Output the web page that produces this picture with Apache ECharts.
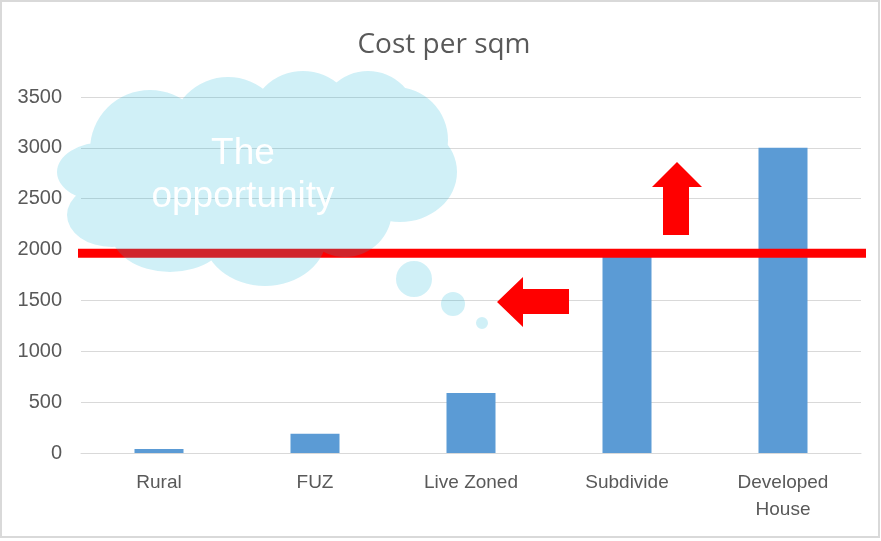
<!DOCTYPE html>
<html>
<head>
<meta charset="utf-8">
<script src="https://cdn.jsdelivr.net/npm/echarts@6/dist/echarts.min.js"></script>
<style>html,body{margin:0;padding:0;background:#fff;}#chart{width:881px;height:541px;}</style>
</head>
<body>
<div id="chart"></div>
<script>
// ---- data ----
const chartTitle = 'Cost per sqm';
const categories = ['Rural', 'FUZ', 'Live Zoned', 'Subdivide', 'Developed\nHouse'];
const costValues = [40, 190, 590, 1950, 3000];
const yMin = 0;
const yMax = 3500;
const yInterval = 500;
const thresholdValue = 1965;
const cloudText = 'The\nopportunity';

// ---- decoration helpers ----
function ellipsePath(cx, cy, rx, ry) {
  return 'M' + (cx - rx) + ' ' + cy +
    ' a' + rx + ' ' + ry + ' 0 1 0 ' + (2 * rx) + ' 0' +
    ' a' + rx + ' ' + ry + ' 0 1 0 ' + (-2 * rx) + ' 0 Z ';
}
const cloudLobes = [
  [255, 175, 170, 70],
  [150, 150, 60, 60],
  [228, 135, 58, 58],
  [303, 125, 54, 54],
  [368, 120, 49, 49],
  [395, 140, 53, 53],
  [400, 172, 57, 50],
  [345, 210, 47, 47],
  [265, 235, 62, 51],
  [170, 230, 60, 42],
  [112, 215, 45, 32],
  [105, 172, 48, 30]
];
let cloudPath = '';
cloudLobes.forEach(l => { cloudPath += ellipsePath(l[0], l[1], l[2], l[3]); });
const bubblePath = ellipsePath(414, 279, 18, 18) + ellipsePath(453, 304, 12, 12) + ellipsePath(482, 323, 6, 6);
const cloudFill = 'rgba(20,180,215,0.2)';

echarts.graphic.registerShape('cloudShape', echarts.graphic.extendPath(cloudPath, {}));
echarts.graphic.registerShape('bubbleShape', echarts.graphic.extendPath(bubblePath, {}));

const chart = echarts.init(document.getElementById('chart'));
const gridLeft = 81, gridRight = 20;

chart.setOption({
  animation: false,
  backgroundColor: '#ffffff',
  title: {
    text: chartTitle,
    left: 439,
    textAlign: 'center',
    top: 26,
    textStyle: { fontFamily: '"Open Sans", sans-serif', fontSize: 28, fontWeight: 'normal', color: '#595959' }
  },
  grid: { left: gridLeft, right: gridRight, top: 97, bottom: 88, containLabel: false },
  xAxis: {
    type: 'category',
    data: categories,
    axisLine: { lineStyle: { color: '#d9d9d9', width: 1 } },
    axisTick: { show: false },
    axisLabel: {
      interval: 0,
      margin: 16,
      color: '#595959',
      fontFamily: '"Liberation Sans", sans-serif',
      fontSize: 19,
      lineHeight: 27
    }
  },
  yAxis: {
    type: 'value',
    min: yMin,
    max: yMax,
    interval: yInterval,
    axisLine: { show: false },
    axisTick: { show: false },
    splitLine: { lineStyle: { color: '#d9d9d9', width: 1 } },
    axisLabel: {
      margin: 19,
      color: '#595959',
      fontFamily: '"Liberation Sans", sans-serif',
      fontSize: 20,
      formatter: v => String(v)
    }
  },
  series: [{
    type: 'bar',
    data: costValues,
    barWidth: 49,
    itemStyle: { color: '#5b9bd5' }
  }]
});

const lineY = chart.convertToPixel({ yAxisIndex: 0 }, thresholdValue);

chart.setOption({
  graphic: [
    {
      type: 'rect', z: 1, silent: true,
      shape: { x: 1, y: 1, width: 878, height: 536 },
      style: { fill: 'none', stroke: '#d9d9d9', lineWidth: 2 }
    },
    {
      type: 'line', z: 10, silent: true,
      shape: { x1: gridLeft - 3, y1: lineY, x2: 881 - gridRight + 5, y2: lineY },
      style: { stroke: '#ff0000', lineWidth: 9 }
    },
    {
      type: 'polygon', z: 12, silent: true,
      shape: { points: [[497, 302], [523, 277], [523, 289], [569, 289], [569, 314], [523, 314], [523, 327]] },
      style: { fill: '#ff0000' }
    },
    {
      type: 'polygon', z: 12, silent: true,
      shape: { points: [[677, 162], [702, 187], [689, 187], [689, 235], [663, 235], [663, 187], [652, 187]] },
      style: { fill: '#ff0000' }
    },
    {
      type: 'cloudShape', z: 20, silent: true,
      style: { fill: cloudFill }
    },
    {
      type: 'bubbleShape', z: 20, silent: true,
      style: { fill: cloudFill }
    },
    {
      type: 'text', z: 30, silent: true,
      style: {
        text: cloudText, x: 243, y: 175,
        fill: '#ffffff',
        fontFamily: '"Liberation Sans", Arial, sans-serif',
        fontSize: 37,
        lineHeight: 43,
        align: 'center',
        verticalAlign: 'middle'
      }
    }
  ]
});
</script>
</body>
</html>
